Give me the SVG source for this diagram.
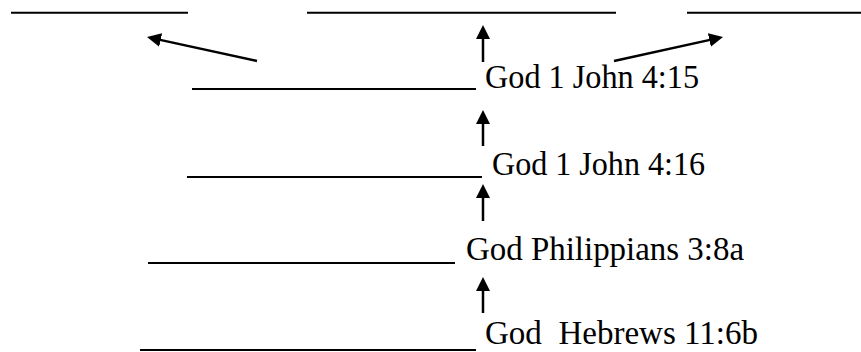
<svg xmlns="http://www.w3.org/2000/svg" width="861" height="352" viewBox="0 0 861 352">
  <defs>
    <marker id="ah" viewBox="0 0 14 14" refX="10" refY="7" markerWidth="14" markerHeight="14" markerUnits="userSpaceOnUse" orient="auto">
      <path d="M0,0 L14,7 L0,14 Z" fill="#000"/>
    </marker>
  </defs>
  <style>
    .blank { stroke: #000; stroke-width: 2; fill: none; }
    .lbl { font-family: "Liberation Serif", "Times New Roman", serif; font-size: 33px; fill: #000; }
    .arr { stroke: #000; stroke-width: 2.5; fill: none; marker-end: url(#ah); }
  </style>
  <rect width="861" height="352" fill="#fff"/>

  <g id="top-left">
    <line class="blank" x1="11" y1="12.7" x2="188" y2="12.7"/>
  </g>
  <g id="top-middle">
    <line class="blank" x1="307" y1="12.7" x2="616" y2="12.7"/>
  </g>
  <g id="top-right">
    <line class="blank" x1="687" y1="12.7" x2="861" y2="12.7"/>
  </g>

  <g id="row-1john-4-15">
    <line class="blank" x1="192" y1="89" x2="476" y2="89"/>
    <text class="lbl" x="485" y="88" textLength="214" lengthAdjust="spacingAndGlyphs">God 1 John 4:15</text>
  </g>
  <g id="row-1john-4-16">
    <line class="blank" x1="187" y1="177" x2="482" y2="177"/>
    <text class="lbl" x="492" y="175" textLength="213" lengthAdjust="spacingAndGlyphs">God 1 John 4:16</text>
  </g>
  <g id="row-philippians">
    <line class="blank" x1="148" y1="263" x2="455" y2="263"/>
    <text class="lbl" x="466" y="260" textLength="278" lengthAdjust="spacingAndGlyphs">God Philippians 3:8a</text>
  </g>
  <g id="row-hebrews">
    <line class="blank" x1="140" y1="350" x2="476" y2="350"/>
    <text class="lbl" x="485" y="344" textLength="273" lengthAdjust="spacingAndGlyphs">God&#160; Hebrews 11:6b</text>
  </g>

  <g id="connectors">
    <line class="arr" x1="257" y1="61" x2="150.9" y2="37.85"/>
    <line class="arr" x1="614" y1="61" x2="719.1" y2="37.85"/>
    <line class="arr" x1="483" y1="62" x2="483" y2="29"/>
    <line class="arr" x1="483" y1="146" x2="483" y2="114"/>
    <line class="arr" x1="483" y1="221" x2="483" y2="188"/>
    <line class="arr" x1="483" y1="313" x2="483" y2="281"/>
  </g>
</svg>
